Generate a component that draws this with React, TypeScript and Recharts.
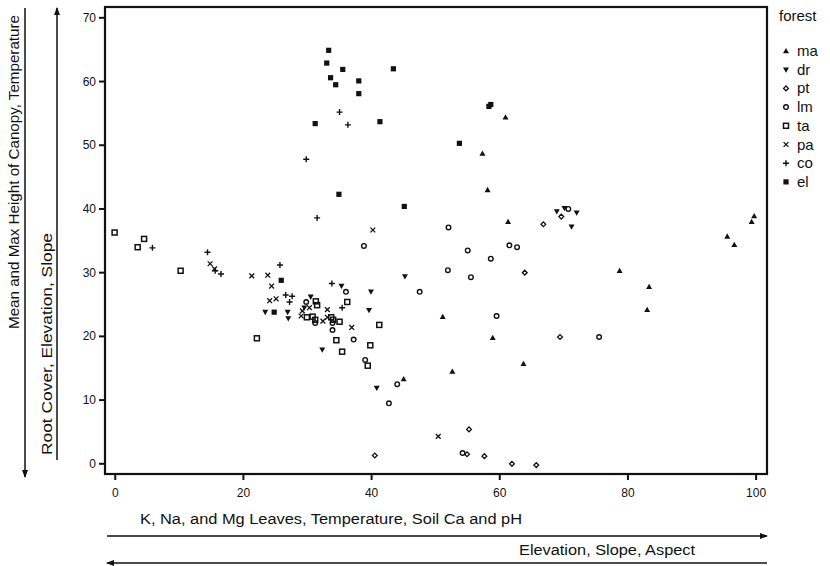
import React from "react";
import { ScatterChart, Scatter, XAxis, YAxis } from "recharts";

// values, [x, y]
const ma = [[60.9, 54.4], [57.3, 48.7], [58.1, 43.0], [61.3, 38.0], [58.9, 19.8], [63.7, 15.7], [78.7, 30.3], [83.3, 27.8], [83.0, 24.2], [95.5, 35.7], [96.6, 34.4], [99.7, 38.9], [99.3, 38.0], [45.0, 13.3], [52.6, 14.5], [51.1, 23.1]];
const dr = [[68.9, 39.6], [70.1, 40.1], [72.0, 39.4], [71.2, 37.2], [45.2, 29.4], [39.9, 27.0], [39.6, 24.1], [40.8, 11.9], [32.3, 17.9], [30.5, 26.2], [35.3, 27.9], [23.4, 23.8], [26.9, 23.8], [27.0, 22.8], [29.5, 24.5]];
const pt = [[66.8, 37.6], [69.6, 38.8], [63.9, 30.0], [69.4, 19.9], [55.2, 5.4], [40.5, 1.3], [54.9, 1.5], [57.6, 1.2], [61.9, 0.0], [65.7, -0.2]];
const lm = [[70.7, 40.0], [61.5, 34.3], [62.7, 34.0], [55.0, 33.5], [58.6, 32.2], [55.5, 29.3], [59.5, 23.2], [75.5, 19.9], [52.0, 37.1], [38.8, 34.2], [51.9, 30.4], [47.5, 27.0], [36.0, 27.0], [29.8, 25.4], [31.2, 22.1], [33.9, 22.1], [33.9, 21.0], [37.2, 19.5], [39.0, 16.3], [44.0, 12.5], [42.7, 9.5], [54.2, 1.7]];
const ta = [[-0.1, 36.3], [4.5, 35.3], [3.5, 34.0], [10.2, 30.3], [22.1, 19.7], [36.2, 25.4], [31.3, 25.5], [31.5, 24.9], [29.9, 23.0], [30.8, 23.1], [31.2, 22.6], [33.7, 23.0], [34.0, 22.6], [35.0, 22.3], [34.5, 19.4], [35.4, 17.6], [39.8, 18.6], [41.2, 21.8], [39.4, 15.4]];
const pa = [[14.8, 31.4], [15.5, 30.6], [21.3, 29.5], [23.8, 29.6], [24.4, 27.9], [24.1, 25.6], [25.1, 25.9], [29.2, 24.0], [30.3, 24.5], [33.1, 24.2], [33.1, 23.0], [32.4, 22.4], [36.9, 21.4], [40.2, 36.7], [50.4, 4.3], [29.0, 23.2]];
const co = [[5.8, 33.9], [14.4, 33.2], [15.6, 30.3], [16.5, 29.8], [25.7, 31.2], [26.6, 26.5], [27.6, 26.3], [27.2, 25.4], [33.8, 28.3], [35.4, 24.5], [31.5, 38.6], [29.8, 47.8], [35.0, 55.2], [36.3, 53.2]];
const el = [[33.3, 64.9], [33.0, 62.9], [35.5, 61.9], [33.6, 60.6], [34.4, 59.5], [38.0, 60.1], [38.0, 58.1], [43.4, 62.0], [31.2, 53.4], [41.3, 53.7], [53.7, 50.3], [58.3, 56.1], [58.6, 56.4], [34.9, 42.3], [45.1, 40.4], [25.9, 28.8], [24.8, 23.8]];

const xTicks = [0, 20, 40, 60, 80, 100];
const yTicks = [0, 10, 20, 30, 40, 50, 60, 70];
const xDomain = [-1.6, 101.7];
const yDomain = [-1.6, 71.7];

const INK = "#111";
const TICK_FONT = "'Liberation Sans Narrow', 'Liberation Sans', Arial, sans-serif";
const LABEL_FONT = "'Liberation Sans', Arial, sans-serif";

// plot box (matches the chart margins below)
const BOX = { left: 105, top: 7, right: 767, bottom: 474 };
// same linear mapping as the axes, only for the little outward tick marks
const sx = (v: number) => BOX.left + ((v - xDomain[0]) / (xDomain[1] - xDomain[0])) * (BOX.right - BOX.left);
const sy = (v: number) => BOX.bottom - ((v - yDomain[0]) / (yDomain[1] - yDomain[0])) * (BOX.bottom - BOX.top);

const series = [
  { name: "ma", points: ma },
  { name: "dr", points: dr },
  { name: "pt", points: pt },
  { name: "lm", points: lm },
  { name: "ta", points: ta },
  { name: "pa", points: pa },
  { name: "co", points: co },
  { name: "el", points: el },
];

const Marker = ({ kind, cx, cy }: { kind: string; cx: number; cy: number }) => {
  switch (kind) {
    case "ma":
      return <polygon points={`${cx},${cy - 3} ${cx - 3},${cy + 2.3} ${cx + 3},${cy + 2.3}`} fill={INK} />;
    case "dr":
      return <polygon points={`${cx},${cy + 3} ${cx - 3},${cy - 2.3} ${cx + 3},${cy - 2.3}`} fill={INK} />;
    case "pt":
      return <polygon points={`${cx},${cy - 2.4} ${cx + 2.4},${cy} ${cx},${cy + 2.4} ${cx - 2.4},${cy}`} fill="#fff" stroke={INK} strokeWidth={1.3} />;
    case "lm":
      return <circle cx={cx} cy={cy} r={2.3} fill="none" stroke={INK} strokeWidth={1.4} />;
    case "ta":
      return <rect x={cx - 2.5} y={cy - 2.5} width={5} height={5} fill="none" stroke={INK} strokeWidth={1.5} />;
    case "pa":
      return (
        <path d={`M${cx - 2.4},${cy - 2.4}L${cx + 2.4},${cy + 2.4}M${cx - 2.4},${cy + 2.4}L${cx + 2.4},${cy - 2.4}`} stroke={INK} strokeWidth={1.3} />
      );
    case "co":
      return <path d={`M${cx - 3},${cy}L${cx + 3},${cy}M${cx},${cy - 3}L${cx},${cy + 3}`} stroke={INK} strokeWidth={1.4} />;
    default:
      return <rect x={cx - 2.6} y={cy - 2.6} width={5.2} height={5.2} fill={INK} />;
  }
};

const XTick = (props: any) => {
  const { x, payload } = props;
  return (
    <text x={x} y={BOX.bottom + 23} textAnchor="middle" fontSize={12} fontFamily={TICK_FONT} fill={INK}>
      {payload.value}
    </text>
  );
};

const YTick = (props: any) => {
  const { y, payload } = props;
  return (
    <text x={BOX.left - 9} y={y + 4} textAnchor="end" fontSize={12} fontFamily={TICK_FONT} fill={INK}>
      {payload.value}
    </text>
  );
};

const Overlay = () => (
  <svg width={830} height={566} style={{ position: "absolute", left: 0, top: 0, pointerEvents: "none" }}>
    <defs>
      <marker id="ah" markerWidth="8" markerHeight="8" refX="7" refY="4" orient="auto" markerUnits="userSpaceOnUse">
        <path d="M0,1 L8,4 L0,7 Z" fill={INK} />
      </marker>
    </defs>
    {/* frame round the plot */}
    <rect
      x={BOX.left}
      y={BOX.top}
      width={BOX.right - BOX.left}
      height={BOX.bottom - BOX.top}
      fill="none"
      stroke={INK}
      strokeWidth={2.2}
    />
    {xTicks.map((t) => (
      <line key={`xt${t}`} x1={sx(t)} y1={BOX.bottom} x2={sx(t)} y2={BOX.bottom + 6} stroke={INK} strokeWidth={2} />
    ))}
    {yTicks.map((t) => (
      <line key={`yt${t}`} x1={BOX.left - 6} y1={sy(t)} x2={BOX.left} y2={sy(t)} stroke={INK} strokeWidth={2} />
    ))}
    {/* left titles and arrows */}
    <text
      transform="translate(19,172) rotate(-90)"
      textAnchor="middle"
      fontFamily={LABEL_FONT}
      fontSize={14}
      fill={INK}
      textLength={314}
      lengthAdjust="spacingAndGlyphs"
    >
      Mean and Max Height of Canopy, Temperature
    </text>
    <line x1={25} y1={8} x2={25} y2={477} stroke={INK} strokeWidth={1.5} markerEnd="url(#ah)" />
    <text
      transform="translate(52,344) rotate(-90)"
      textAnchor="middle"
      fontFamily={LABEL_FONT}
      fontSize={14}
      fill={INK}
      textLength={222}
      lengthAdjust="spacingAndGlyphs"
    >
      Root Cover, Elevation, Slope
    </text>
    <line x1={57} y1={460} x2={57} y2={8} stroke={INK} strokeWidth={1.5} markerEnd="url(#ah)" />
    {/* bottom titles and arrows */}
    <text x={140} y={524} fontFamily={LABEL_FONT} fontSize={14} fill={INK} textLength={382} lengthAdjust="spacingAndGlyphs">
      K, Na, and Mg Leaves, Temperature, Soil Ca and pH
    </text>
    <line x1={107} y1={536} x2={767} y2={536} stroke={INK} strokeWidth={1.5} markerEnd="url(#ah)" />
    <text x={519} y={555} fontFamily={LABEL_FONT} fontSize={14} fill={INK} textLength={176} lengthAdjust="spacingAndGlyphs">
      Elevation, Slope, Aspect
    </text>
    <line x1={767} y1={563} x2={107} y2={563} stroke={INK} strokeWidth={1.5} markerEnd="url(#ah)" />
    {/* legend */}
    <text x={779} y={21} fontFamily={LABEL_FONT} fontSize={15} fill={INK}>
      forest
    </text>
    {series.map((s, i) => {
      const cy = 51 + i * 18.7;
      return (
        <g key={s.name}>
          <Marker kind={s.name} cx={786} cy={cy} />
          <text x={797} y={cy + 5} fontFamily={LABEL_FONT} fontSize={15} fill={INK}>
            {s.name}
          </text>
        </g>
      );
    })}
  </svg>
);

export default function App() {
  return (
    <div style={{ position: "absolute", left: 0, top: 0, width: 830, height: 566, background: "#fff" }}>
      <ScatterChart width={830} height={566} margin={{ top: BOX.top, right: 830 - BOX.right, bottom: 62, left: 65 }}>
        <XAxis
          type="number"
          dataKey="x"
          domain={xDomain}
          ticks={xTicks}
          allowDataOverflow
          height={30}
          axisLine={false}
          tickLine={false}
          tick={<XTick />}
        />
        <YAxis
          type="number"
          dataKey="y"
          domain={yDomain}
          ticks={yTicks}
          allowDataOverflow
          width={40}
          axisLine={false}
          tickLine={false}
          tick={<YTick />}
        />
        {series.map((s) => (
          <Scatter
            key={s.name}
            name={s.name}
            data={s.points.map(([x, y]) => ({ x, y }))}
            isAnimationActive={false}
            shape={(p: any) => <Marker kind={s.name} cx={p.cx} cy={p.cy} />}
          />
        ))}
      </ScatterChart>
      <Overlay />
    </div>
  );
}
